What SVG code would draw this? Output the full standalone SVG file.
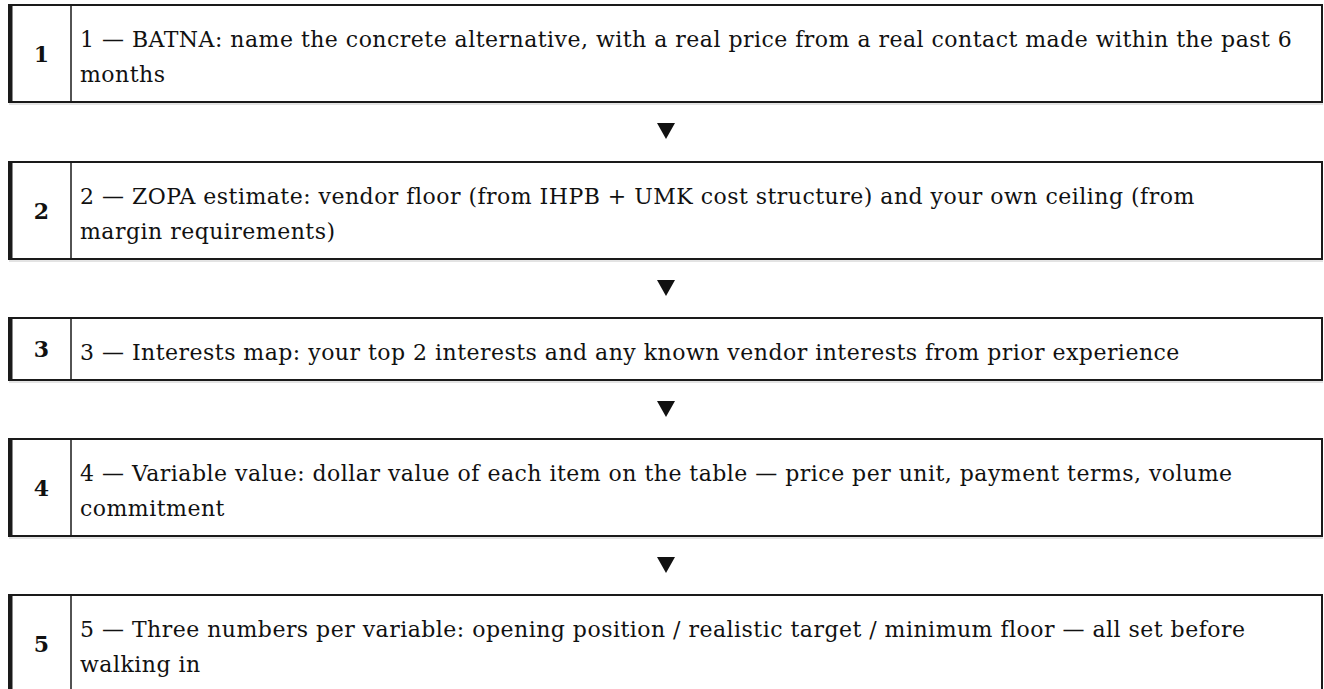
<svg xmlns="http://www.w3.org/2000/svg" width="1324" height="689" viewBox="0 0 1324 689">
<style>
.frame{fill:#fff;stroke:#1a1a1a;stroke-width:2}
.lbar{fill:#1a1a1a}
.div{stroke:#1a1a1a;stroke-width:1.5}
.shadow{stroke:#c8c8c8;stroke-width:1}
.num{font-family:"DejaVu Serif","Liberation Serif",serif;font-weight:bold;font-size:22px;fill:#111;text-anchor:middle}
.txt{font-family:"DejaVu Serif","Liberation Serif",serif;font-size:22px;letter-spacing:0.48px;fill:#111}
.arr{fill:#111}
</style>
<rect width="1324" height="689" fill="#fff"/>
<g id="connectors">
<polygon class="arr" points="657,123 675,123 666,139"/>
<polygon class="arr" points="657,280 675,280 666,296"/>
<polygon class="arr" points="657,401 675,401 666,417"/>
<polygon class="arr" points="657,557 675,557 666,573"/>
</g>
<g id="step1">
<rect class="frame" x="9" y="5" width="1313" height="97"/>
<rect class="lbar" x="8" y="4" width="4.5" height="99"/>
<line class="div" x1="71" y1="5" x2="71" y2="102"/>
<line class="shadow" x1="9" y1="104" x2="1323" y2="104"/>
<text class="num" x="41.5" y="62">1</text>
<text class="txt" x="80" y="47">1 — BATNA: name the concrete alternative, with a real price from a real contact made within the past 6</text>
<text class="txt" x="80" y="82">months</text>
</g>
<g id="step2">
<rect class="frame" x="9" y="162" width="1313" height="97"/>
<rect class="lbar" x="8" y="161" width="4.5" height="99"/>
<line class="div" x1="71" y1="162" x2="71" y2="259"/>
<line class="shadow" x1="9" y1="261" x2="1323" y2="261"/>
<text class="num" x="41.5" y="219">2</text>
<text class="txt" x="80" y="204">2 — ZOPA estimate: vendor floor (from IHPB + UMK cost structure) and your own ceiling (from</text>
<text class="txt" x="80" y="239">margin requirements)</text>
</g>
<g id="step3">
<rect class="frame" x="9" y="318" width="1313" height="62"/>
<rect class="lbar" x="8" y="317" width="4.5" height="64"/>
<line class="div" x1="71" y1="318" x2="71" y2="380"/>
<line class="shadow" x1="9" y1="382" x2="1323" y2="382"/>
<text class="num" x="41.5" y="357">3</text>
<text class="txt" x="80" y="360">3 — Interests map: your top 2 interests and any known vendor interests from prior experience</text>
</g>
<g id="step4">
<rect class="frame" x="9" y="439" width="1313" height="97"/>
<rect class="lbar" x="8" y="438" width="4.5" height="99"/>
<line class="div" x1="71" y1="439" x2="71" y2="536"/>
<line class="shadow" x1="9" y1="538" x2="1323" y2="538"/>
<text class="num" x="41.5" y="496">4</text>
<text class="txt" x="80" y="481">4 — Variable value: dollar value of each item on the table — price per unit, payment terms, volume</text>
<text class="txt" x="80" y="516">commitment</text>
</g>
<g id="step5">
<rect class="frame" x="9" y="595" width="1313" height="97"/>
<rect class="lbar" x="8" y="594" width="4.5" height="99"/>
<line class="div" x1="71" y1="595" x2="71" y2="692"/>
<text class="num" x="41.5" y="652">5</text>
<text class="txt" x="80" y="637">5 — Three numbers per variable: opening position / realistic target / minimum floor — all set before</text>
<text class="txt" x="80" y="672">walking in</text>
</g>
</svg>
